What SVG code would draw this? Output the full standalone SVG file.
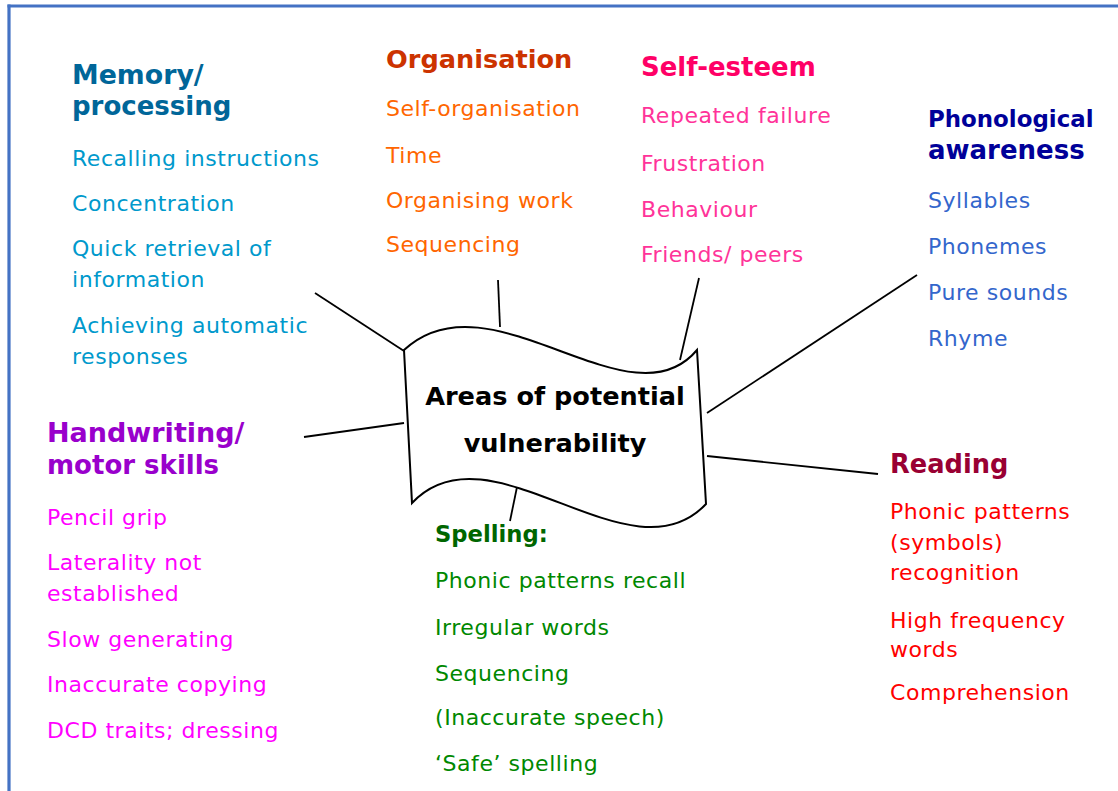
<svg xmlns="http://www.w3.org/2000/svg" width="1118" height="791" viewBox="0 0 1118 791">
  <style>
    text { font-family: "DejaVu Sans", Verdana, sans-serif; }
    .h { font-weight: bold; font-size: 26px; }
    .i { font-size: 22px; letter-spacing: 0.55px; }
    .link { stroke: #000; stroke-width: 1.8; fill: none; }
    .mem-h { fill: #006699; } .mem-i { fill: #0099cc; }
    .org-h { fill: #cc3300; } .org-i { fill: #ff6600; }
    .se-h { fill: #ff0066; } .se-i { fill: #ff3399; }
    .ph-h { fill: #000099; } .ph-i { fill: #3366cc; }
    .hw-h { fill: #9900cc; } .hw-i { fill: #ff00ff; }
    .sp-h { fill: #006600; } .sp-i { fill: #008800; }
    .rd-h { fill: #990033; } .rd-i { fill: #ff0000; }
  </style>
  <rect width="1118" height="791" fill="#ffffff"/>
  <!-- page frame: top and left rules -->
  <g id="frame" stroke="#4472c4" stroke-width="3.2">
    <line x1="7.5" y1="6" x2="1118" y2="6"/>
    <line x1="9" y1="4.5" x2="9" y2="791"/>
  </g>

  <g id="connectors">
    <line class="link" x1="315" y1="293" x2="404" y2="351"/>
    <line class="link" x1="498" y1="280" x2="500" y2="327"/>
    <line class="link" x1="699" y1="278" x2="680" y2="360"/>
    <line class="link" x1="917" y1="275" x2="707" y2="413"/>
    <line class="link" x1="304" y1="437" x2="404" y2="423"/>
    <line class="link" x1="707" y1="456" x2="878" y2="474"/>
    <line class="link" x1="517" y1="487" x2="510" y2="521"/>
  </g>

  <g id="centre">
    <path d="M404,350 C490,270 630,430 697,350 L706,504 C630,585 490,420 412,503 Z" fill="#ffffff" stroke="#000" stroke-width="2"/>
    <text x="555" y="405" text-anchor="middle" font-weight="bold" font-size="25.6">Areas of potential</text>
    <text x="555" y="452" text-anchor="middle" font-weight="bold" font-size="25.6">vulnerability</text>
  </g>

  <g id="memory">
    <text class="h mem-h" x="72" y="84" style="font-size:26.8px">Memory/</text>
    <text class="h mem-h" x="72" y="115">processing</text>
    <text class="i mem-i" x="72" y="166">Recalling instructions</text>
    <text class="i mem-i" x="72" y="211">Concentration</text>
    <text class="i mem-i" x="72" y="256">Quick retrieval of</text>
    <text class="i mem-i" x="72" y="287">information</text>
    <text class="i mem-i" x="72" y="333">Achieving automatic</text>
    <text class="i mem-i" x="72" y="364">responses</text>
  </g>

  <g id="organisation">
    <text class="h org-h" x="386" y="68" style="font-size:25.6px">Organisation</text>
    <text class="i org-i" x="386" y="116">Self-organisation</text>
    <text class="i org-i" x="386" y="163">Time</text>
    <text class="i org-i" x="386" y="208">Organising work</text>
    <text class="i org-i" x="386" y="252">Sequencing</text>
  </g>

  <g id="self-esteem">
    <text class="h se-h" x="641" y="76">Self-esteem</text>
    <text class="i se-i" x="641" y="123">Repeated failure</text>
    <text class="i se-i" x="641" y="171">Frustration</text>
    <text class="i se-i" x="641" y="217">Behaviour</text>
    <text class="i se-i" x="641" y="262">Friends/ peers</text>
  </g>

  <g id="phonological">
    <text class="h ph-h" x="928" y="127" style="font-size:22.9px">Phonological</text>
    <text class="h ph-h" x="928" y="159">awareness</text>
    <text class="i ph-i" x="928" y="208">Syllables</text>
    <text class="i ph-i" x="928" y="254">Phonemes</text>
    <text class="i ph-i" x="928" y="300">Pure sounds</text>
    <text class="i ph-i" x="928" y="346">Rhyme</text>
  </g>

  <g id="handwriting">
    <text class="h hw-h" x="47" y="442" style="font-size:27px">Handwriting/</text>
    <text class="h hw-h" x="47" y="474">motor skills</text>
    <text class="i hw-i" x="47" y="525">Pencil grip</text>
    <text class="i hw-i" x="47" y="570">Laterality not</text>
    <text class="i hw-i" x="47" y="601">established</text>
    <text class="i hw-i" x="47" y="647">Slow generating</text>
    <text class="i hw-i" x="47" y="692">Inaccurate copying</text>
    <text class="i hw-i" x="47" y="738">DCD traits; dressing</text>
  </g>

  <g id="spelling">
    <text class="h sp-h" x="435" y="542" style="font-size:22.7px">Spelling:</text>
    <text class="i sp-i" x="435" y="588">Phonic patterns recall</text>
    <text class="i sp-i" x="435" y="635">Irregular words</text>
    <text class="i sp-i" x="435" y="681">Sequencing</text>
    <text class="i sp-i" x="435" y="725">(Inaccurate speech)</text>
    <text class="i sp-i" x="435" y="771">‘Safe’ spelling</text>
  </g>

  <g id="reading">
    <text class="h rd-h" x="890" y="473" style="font-size:25.7px">Reading</text>
    <text class="i rd-i" x="890" y="519">Phonic patterns</text>
    <text class="i rd-i" x="890" y="550">(symbols)</text>
    <text class="i rd-i" x="890" y="580">recognition</text>
    <text class="i rd-i" x="890" y="628">High frequency</text>
    <text class="i rd-i" x="890" y="657">words</text>
    <text class="i rd-i" x="890" y="700">Comprehension</text>
  </g>
</svg>
